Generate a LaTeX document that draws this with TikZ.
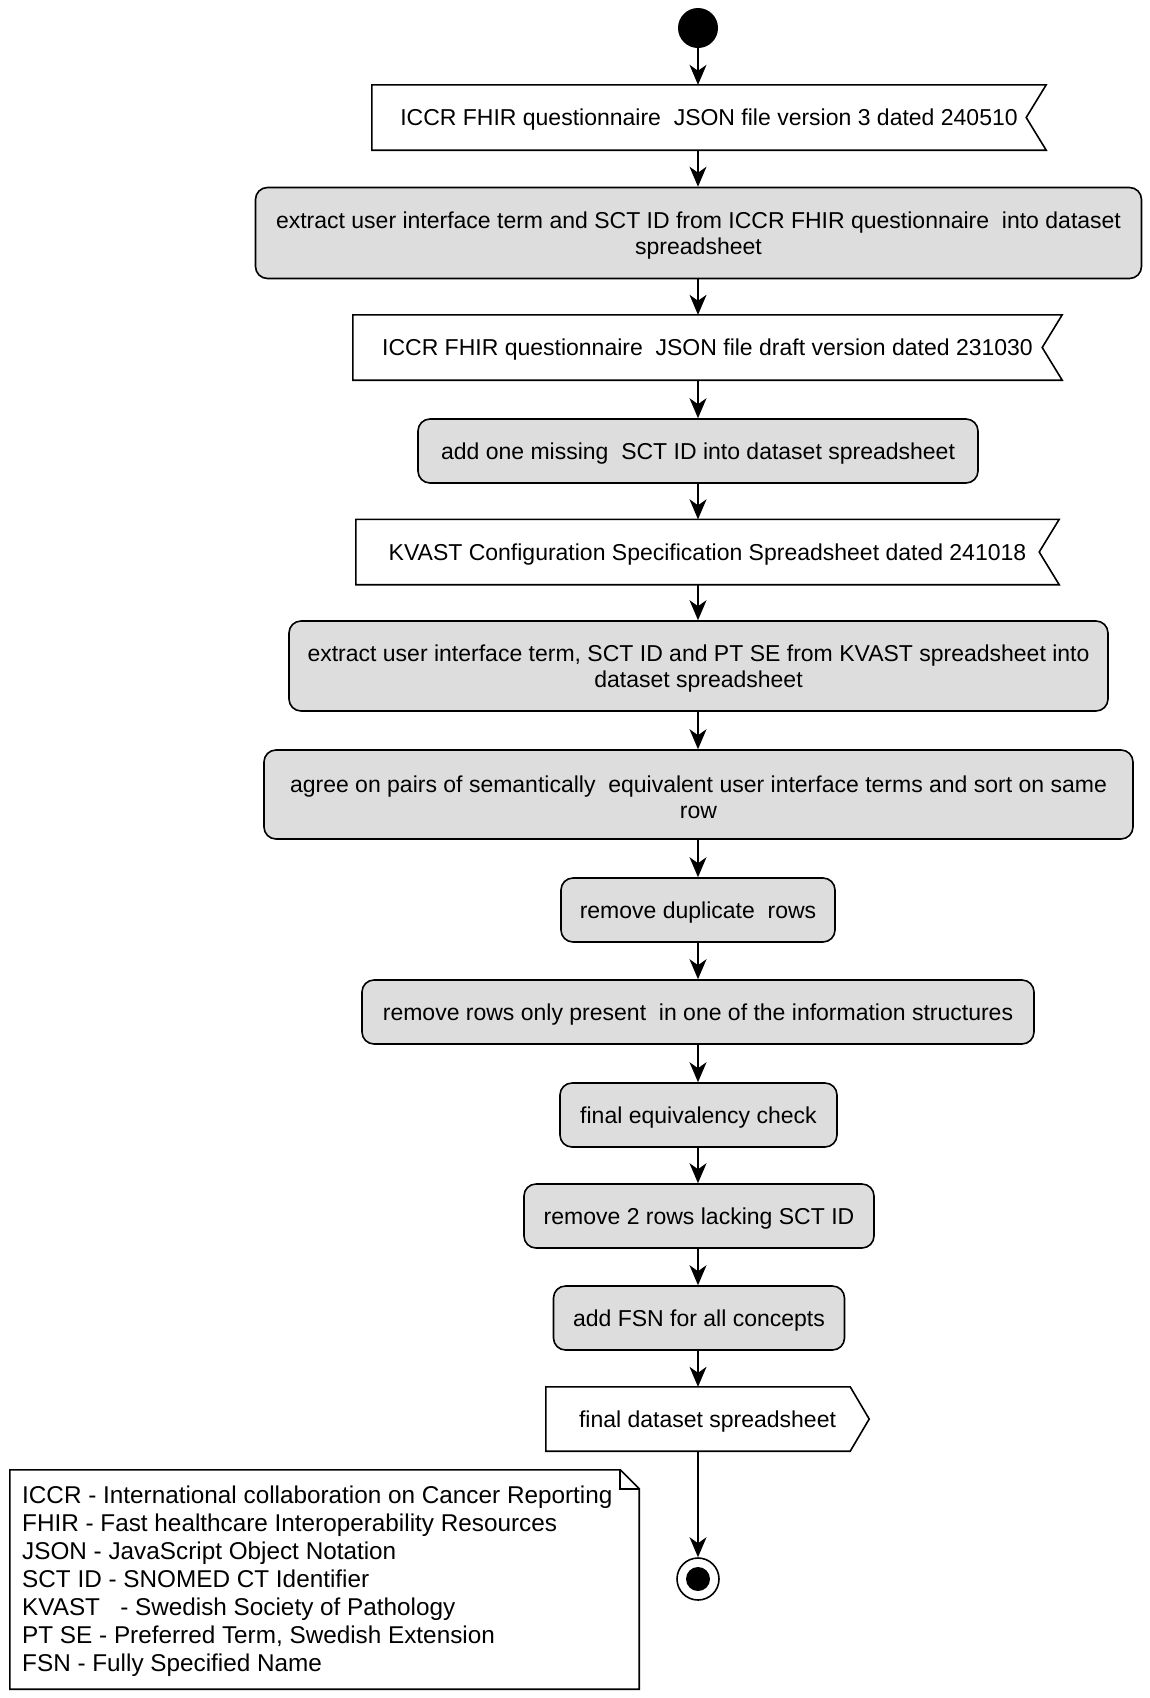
\documentclass[tikz,border=0pt]{standalone}
\usepackage{fontspec}
\setmainfont{Liberation Sans}
\usetikzlibrary{arrows.meta}
\definecolor{actgray}{HTML}{DDDDDD}
\newcommand{\tstrut}{\rule{0pt}{21.5pt}}
\tikzset{
  lw/.style={line width=1.6pt},
  arr/.style={lw,-{Stealth[length=20pt,width=17pt,inset=6pt]}},
  txt/.style={font=\fontsize{23pt}{26pt}\selectfont, align=center, inner sep=0pt},
  one/.style={text height=19pt, text depth=3pt},
  act/.style={txt, draw, lw, fill=actgray, rounded corners=12pt},
  objbox/.style={txt, one},
  legtxt/.style={font=\fontsize{24.3pt}{28pt}\selectfont, inner sep=0pt, anchor=base west},
}
\begin{document}
\begin{tikzpicture}[x=1pt,y=-1pt]
\useasboundingbox (0,0) rectangle (1149,1698);

% start
\node[circle, fill=black, minimum size=40pt, inner sep=0pt] (start) at (698,28) {};

% box 1 (object)
\node[objbox, minimum width=674pt, minimum height=65pt] (b1) at (709,117.5)
  {ICCR FHIR questionnaire\ \ JSON file version 3 dated 240510};
\draw[lw] (b1.north west) -- (b1.north east) -- ([xshift=-20pt]b1.east) -- (b1.south east) -- (b1.south west) -- cycle;

\node[act, minimum width=886pt, minimum height=91pt] (b2) at (698.5,233)
  {\tstrut extract user interface term and SCT ID from ICCR FHIR questionnaire\ \ into dataset\\spreadsheet};

\node[objbox, minimum width=709pt, minimum height=65pt] (b3) at (707.5,347.5)
  {ICCR FHIR questionnaire\ \ JSON file draft version dated 231030};
\draw[lw] (b3.north west) -- (b3.north east) -- ([xshift=-20pt]b3.east) -- (b3.south east) -- (b3.south west) -- cycle;

\node[act, one, minimum width=560pt, minimum height=64pt] (b4) at (698,451)
  {add one missing\ \ SCT ID into dataset spreadsheet};

\node[objbox, minimum width=703pt, minimum height=65pt] (b5) at (707.5,552)
  {KVAST Configuration Specification Spreadsheet dated 241018};
\draw[lw] (b5.north west) -- (b5.north east) -- ([xshift=-20pt]b5.east) -- (b5.south east) -- (b5.south west) -- cycle;

\node[act, minimum width=819pt, minimum height=90pt] (b6) at (698.5,666)
  {\tstrut extract user interface term, SCT ID and PT SE from KVAST spreadsheet into\\dataset spreadsheet};

\node[act, minimum width=869pt, minimum height=89pt] (b7) at (698.5,794.5)
  {\tstrut agree on pairs of semantically\ \ equivalent user interface terms and sort on same\\row};

\node[act, one, minimum width=274pt, minimum height=64pt] (b8) at (698,910)
  {remove duplicate\ \ rows};

\node[act, one, minimum width=672pt, minimum height=64pt] (b9) at (698,1012)
  {remove rows only present\ \ in one of the information structures};

\node[act, one, minimum width=277pt, minimum height=64pt] (b10) at (698.5,1115)
  {final equivalency check};

\node[act, one, minimum width=350pt, minimum height=64pt] (b11) at (699,1216)
  {remove 2 rows lacking SCT ID};

\node[act, one, minimum width=291pt, minimum height=64pt] (b12) at (699,1318)
  {add FSN for all concepts};

\node[objbox, minimum width=323pt, minimum height=64pt] (b13) at (707.5,1419)
  {final dataset spreadsheet};
\draw[lw] (b13.north west) -- ([xshift=-19pt]b13.north east) -- (b13.east) -- ([xshift=-19pt]b13.south east) -- (b13.south west) -- cycle;

% end
\node[circle, draw, lw, minimum size=42pt, inner sep=0pt] (end) at (698,1579) {};
\node[circle, fill=black, minimum size=24pt, inner sep=0pt] (endin) at (end.center) {};

% connectors
\draw[arr] (start.south) -- (start.south |- b1.north);
\draw[arr] (start.south |- b1.south) -- (start.south |- b2.north);
\draw[arr] (start.south |- b2.south) -- (start.south |- b3.north);
\draw[arr] (start.south |- b3.south) -- (b4.north);
\draw[arr] (b4.south) -- (b4.south |- b5.north);
\draw[arr] (b4.south |- b5.south) -- (b4.south |- b6.north);
\draw[arr] (b4.south |- b6.south) -- (b4.south |- b7.north);
\draw[arr] (b4.south |- b7.south) -- (b8.north);
\draw[arr] (b8.south) -- (b9.north);
\draw[arr] (b9.south) -- (b9.south |- b10.north);
\draw[arr] (b9.south |- b10.south) -- (b9.south |- b11.north);
\draw[arr] (b9.south |- b11.south) -- (b9.south |- b12.north);
\draw[arr] (b9.south |- b12.south) -- (b9.south |- b13.north);
\draw[arr] (b13.south -| end.north) -- (end.north);

% legend note
\node[minimum width=629pt, minimum height=219pt, inner sep=0pt] (legend) at (324.5,1579.5) {};
\draw[lw] (legend.north west) -- ([xshift=-19pt]legend.north east) -- ([yshift=-19pt]legend.north east) -- (legend.south east) -- (legend.south west) -- cycle;
\draw[lw] ([xshift=-19pt]legend.north east) -- ([xshift=-19pt,yshift=-19pt]legend.north east) -- ([yshift=-19pt]legend.north east);
\node[legtxt] (l1) at (22,1503) {ICCR - International collaboration on Cancer Reporting};
\node[legtxt] (l2) at (22,1531) {FHIR - Fast healthcare Interoperability Resources};
\node[legtxt] (l3) at (22,1559) {JSON - JavaScript Object Notation};
\node[legtxt] (l4) at (22,1587) {SCT ID - SNOMED CT Identifier};
\node[legtxt] (l5) at (22,1615) {KVAST\ \ \ - Swedish Society of Pathology};
\node[legtxt] (l6) at (22,1643) {PT SE - Preferred Term, Swedish Extension};
\node[legtxt] (l7) at (22,1671) {FSN - Fully Specified Name};
\end{tikzpicture}
\end{document}
